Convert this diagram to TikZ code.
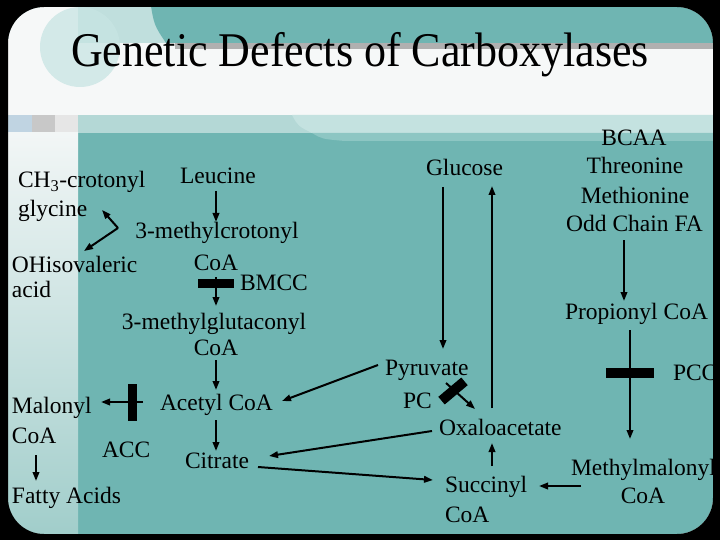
\documentclass[tikz,border=0pt]{standalone}
\usepackage{fontspec}
\setmainfont{Liberation Serif}
\usetikzlibrary{arrows.meta}
\definecolor{tealmain}{RGB}{111,181,178}
\definecolor{whitebg}{RGB}{246,248,248}
\definecolor{lightteal}{RGB}{192,223,221}
\definecolor{circteal}{RGB}{200,229,227}
\definecolor{greyline}{RGB}{176,176,176}
\definecolor{bandA}{RGB}{180,216,214}
\definecolor{bandB}{RGB}{196,226,224}
\definecolor{bandC}{RGB}{141,198,195}
\definecolor{sqblue}{RGB}{192,212,226}
\definecolor{sqgrey}{RGB}{200,200,200}
\definecolor{sqlight}{RGB}{230,230,230}
\definecolor{striptop}{RGB}{242,246,246}
\definecolor{stripbot}{RGB}{160,205,202}
\tikzset{
  lbl/.style={inner sep=0pt, outer sep=0pt, font=\fontsize{23.5}{28}\selectfont, text=black},
  ttl/.style={inner sep=0pt, outer sep=0pt, font=\fontsize{44}{50}\selectfont, text=black},
  arr/.style={line width=2pt, -{Triangle[length=9pt,width=6.5pt]}},
  blockbar/.style={fill=black, draw=none, inner sep=0pt, outer sep=0pt},
}
\begin{document}
\begin{tikzpicture}[x=1pt,y=-1pt]
\useasboundingbox (0,0) rectangle (720,540);
% background panel
\begin{scope}
\clip[rounded corners=36] (8,7) rectangle (713,534);
\fill[tealmain] (0,0) rectangle (720,540);
\fill[whitebg] (0,0) rectangle (720,115);
\fill[lightteal] (78,0) rectangle (170,43);
\fill[tealmain] (150,0) .. controls (154,25) .. (166,43) -- (720,43) -- (720,0) -- cycle;
\fill[circteal, opacity=0.75] (80,47) circle (40);
\fill[greyline] (175,43) rectangle (720,49);
\fill[bandA] (78,115) rectangle (720,133);
\fill[bandB] (292,115) .. controls (298,126) .. (312,133) -- (720,133) -- (720,115) -- cycle;
\fill[bandC] (312,133) .. controls (322,139) .. (345,141) -- (720,141) -- (720,133) -- cycle;
\fill[sqblue] (0,115) rectangle (32,133);
\fill[sqgrey] (32,115) rectangle (55,133);
\fill[sqlight] (55,115) rectangle (78,133);
\shade[top color=striptop, bottom color=stripbot] (0,133) rectangle (78,540);
\end{scope}

% title
\node[ttl, anchor=base] (title) at (360,67) {\scalebox{1}[1.1]{Genetic Defects of Carboxylases}};

% left pathway texts
\node[lbl, anchor=base west] (ch3) at (18,188) {CH\textsubscript{3}-crotonyl};
\node[lbl, anchor=base west] (gly) at (18,217) {glycine};
\node[lbl, anchor=base west] (leu) at (180,183.5) {Leucine};
\node[lbl, anchor=base] (mcc) at (217,239) {3-methylcrotonyl};
\node[lbl, anchor=base] (mcccoa) at (216,270.5) {CoA};
\node[lbl, anchor=base west] (ohiso) at (12,272) {OHisovaleric};
\node[lbl, anchor=base west] (acid) at (12,297) {acid};
\node[lbl, anchor=base west] (bmcc) at (240,290.5) {BMCC};
\node[lbl, anchor=base] (mgc) at (214,329) {3-methylglutaconyl};
\node[lbl, anchor=base] (mgccoa) at (216,355.5) {CoA};
\node[lbl, anchor=base west] (mal) at (12,413.5) {Malonyl};
\node[lbl, anchor=base west] (malcoa) at (12,443.5) {CoA};
\node[lbl, anchor=base west] (fatty) at (12,503.5) {Fatty Acids};
\node[lbl, anchor=base west] (acc) at (102,457) {ACC};
\node[lbl, anchor=base west] (acetyl) at (160,410.5) {Acetyl CoA};
\node[lbl, anchor=base west] (citrate) at (185,468.5) {Citrate};

% middle texts
\node[lbl, anchor=base west] (glucose) at (426,175.5) {Glucose};
\node[lbl, anchor=base west] (pyr) at (385,375.5) {Pyruvate};
\node[lbl, anchor=base west] (pc) at (403,408.5) {PC};
\node[lbl, anchor=base west] (oxa) at (439,435.5) {Oxaloacetate};
\node[lbl, anchor=base west] (succ) at (445,492) {Succinyl};
\node[lbl, anchor=base west] (succcoa) at (445,522) {CoA};

% right texts
\node[lbl, anchor=base] (bcaa) at (634,145.5) {BCAA};
\node[lbl, anchor=base] (thr) at (635,174) {Threonine};
\node[lbl, anchor=base] (met) at (635,204) {Methionine};
\node[lbl, anchor=base] (odd) at (634.5,232) {Odd Chain FA};
\node[lbl, anchor=base west] (prop) at (565,319) {Propionyl CoA};
\node[lbl, anchor=base west] (pcc) at (673,380.5) {PCC};
\node[lbl, anchor=base west] (mm) at (571,475.5) {Methylmalonyl};
\node[lbl, anchor=base] (mmcoa) at (643,503.5) {CoA};

% enzyme blocks
\node[blockbar, minimum width=36pt, minimum height=9pt] (bmccbar) at (216,283.5) {};
\node[blockbar, minimum width=9pt, minimum height=37pt] (accbar) at (132.5,402.5) {};
\node[blockbar, minimum width=48pt, minimum height=10pt] (pccbar) at (630,373) {};

% connector end points
\coordinate (vx) at (118,228);
\coordinate (glyEnd) at (102,210);
\coordinate (ohEnd) at (84,251);
\coordinate (leuS) at (216,191);
\coordinate (mccN) at (216,222);
\coordinate (bmccS) at (216,277);
\coordinate (mgcN) at (216,306);
\coordinate (mgcS) at (216,360);
\coordinate (acN) at (216,390);
\coordinate (acW) at (143,402);
\coordinate (malE) at (101,402);
\coordinate (acS) at (216,420);
\coordinate (citN) at (216,451);
\coordinate (malS) at (36,455);
\coordinate (fatN) at (36,481);
\coordinate (pyrW) at (378,365);
\coordinate (acE) at (282,401);
\coordinate (oxaW) at (432,431);
\coordinate (citE) at (269,456);
\coordinate (citE2) at (258,467);
\coordinate (succW) at (433,480);
\coordinate (gluS) at (443,187);
\coordinate (pyrN) at (443,349);
\coordinate (oxaN) at (492,408);
\coordinate (gluS2) at (492,186);
\coordinate (pyrSE) at (446,383);
\coordinate (oxaNW) at (475,409);
\coordinate (succN) at (492,466);
\coordinate (oxaS) at (492,443);
\coordinate (mmW) at (581,486);
\coordinate (succE) at (539,486);
\coordinate (oddS) at (624,240);
\coordinate (propN) at (624,301);
\coordinate (propS) at (630,330);
\coordinate (mmN) at (630,439);

% connectors
\draw[arr] (vx) -- (glyEnd);
\draw[arr] (vx) -- (ohEnd);
\draw[arr] (leuS) -- (mccN);
\draw[arr] (bmccS) -- (mgcN);
\draw[arr] (mgcS) -- (acN);
\draw[arr] (acW) -- (malE);
\draw[arr] (acS) -- (citN);
\draw[arr] (malS) -- (fatN);
\draw[arr] (pyrW) -- (acE);
\draw[arr] (oxaW) -- (citE);
\draw[arr] (citE2) -- (succW);
\draw[arr] (gluS) -- (pyrN);
\draw[arr] (oxaN) -- (gluS2);
\draw[arr] (pyrSE) -- (oxaNW);
\draw[arr] (succN) -- (oxaS);
\draw[arr] (mmW) -- (succE);
\draw[arr] (oddS) -- (propN);
\draw[arr] (propS) -- (mmN);
\node[blockbar, minimum width=30pt, minimum height=10pt, rotate=40] (pcbar) at (453,391) {};

% black frame over everything
\fill[black, even odd rule] (0,0) rectangle (720,540) [rounded corners=36] (8,7) rectangle (713,534);
\end{tikzpicture}
\end{document}
